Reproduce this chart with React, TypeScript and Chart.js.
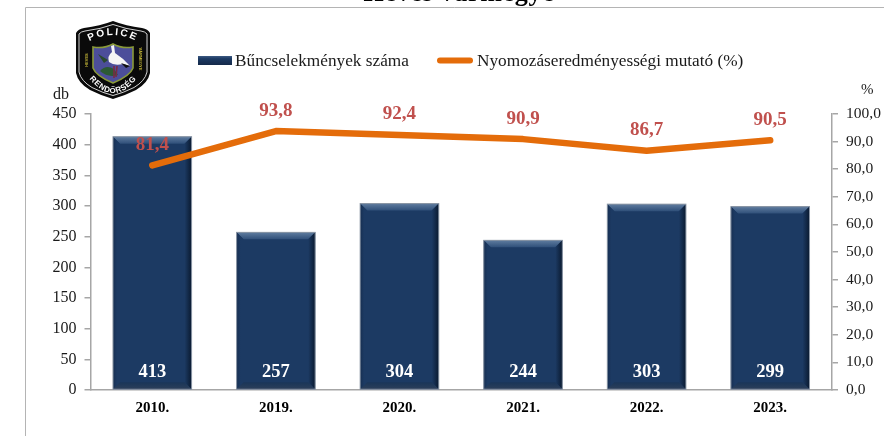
import React, { useEffect, useRef } from "react";
import { Chart, registerables } from "chart.js";

Chart.register(...registerables);

const years = ["2010.", "2019.", "2020.", "2021.", "2022.", "2023."];
const crimeCounts = [413, 257, 304, 244, 303, 299];
const clearanceRates = [81.4, 93.8, 92.4, 90.9, 86.7, 90.5];
const barLabel = "Bűncselekmények száma";
const lineLabel = "Nyomozáseredményességi mutató (%)";
const titleText = "Heves vármegye";

const SERIF = '"Liberation Serif", serif';
const NAVY = "#1c3a63";
const ORANGE = "#e46c0a";
const RED = "#c0504d";
const AXIS = "#a6a6a6";
const INK = "#1a1a1a";

const hu = (v: number) => v.toFixed(1).replace(".", ",");

function bevelBar(ctx: CanvasRenderingContext2D, x0: number, y0: number, x1: number, y1: number) {
  const d = 7;
  const quad = (pts: number[][], fill: string | CanvasGradient) => {
    ctx.beginPath();
    pts.forEach(([a, b], i) => (i ? ctx.lineTo(a, b) : ctx.moveTo(a, b)));
    ctx.closePath();
    ctx.fillStyle = fill;
    ctx.fill();
  };
  const top = ctx.createLinearGradient(0, y0, 0, y0 + d);
  top.addColorStop(0, "#5f7c9f");
  top.addColorStop(1, "#2f4f79");
  quad([[x0, y0], [x1, y0], [x1 - d, y0 + d], [x0 + d, y0 + d]], top);
  const right = ctx.createLinearGradient(x1 - d, 0, x1, 0);
  right.addColorStop(0, NAVY);
  right.addColorStop(1, "#0a1a30");
  quad([[x1, y0], [x1, y1], [x1 - d, y1 - d], [x1 - d, y0 + d]], right);
  const left = ctx.createLinearGradient(x0, 0, x0 + 4, 0);
  left.addColorStop(0, "#172f52");
  left.addColorStop(1, NAVY);
  quad([[x0, y0], [x0 + d, y0 + d], [x0 + d, y1 - d], [x0, y1]], left);
  const bottom = ctx.createLinearGradient(0, y1 - d, 0, y1);
  bottom.addColorStop(0, "#1a3558");
  bottom.addColorStop(1, "#2c3f5a");
  quad([[x0 + d, y1 - d], [x1 - d, y1 - d], [x1, y1], [x0, y1]], bottom);
  ctx.strokeStyle = "#8c97a6";
  ctx.lineWidth = 1;
  ctx.strokeRect(x0, y0, x1 - x0, y1 - y0);
}

const decorations = {
  id: "decorations",
  beforeDraw(chart: any) {
    const { ctx } = chart;
    ctx.save();
    ctx.strokeStyle = "#b4b4b4";
    ctx.lineWidth = 1;
    ctx.beginPath();
    ctx.moveTo(25.5, 436);
    ctx.lineTo(25.5, 7.5);
    ctx.lineTo(884, 7.5);
    ctx.stroke();
    ctx.restore();
  },
  afterDatasetDraw(chart: any, args: any) {
    if (args.index !== 0) return;
    const { ctx } = chart;
    ctx.save();
    args.meta.data.forEach((bar: any) => {
      bevelBar(ctx, bar.x - bar.width / 2, bar.y, bar.x + bar.width / 2, bar.base);
    });
    ctx.restore();
  },
  afterDatasetsDraw(chart: any) {
    const { ctx } = chart;
    ctx.save();
    ctx.textAlign = "center";
    ctx.textBaseline = "middle";
    ctx.font = `bold 18.5px ${SERIF}`;
    ctx.fillStyle = "#ffffff";
    chart.getDatasetMeta(0).data.forEach((bar: any, i: number) => {
      ctx.fillText(String(crimeCounts[i]), bar.x, bar.base - 17);
    });
    ctx.font = `bold 19px ${SERIF}`;
    ctx.fillStyle = RED;
    chart.getDatasetMeta(1).data.forEach((pt: any, i: number) => {
      ctx.fillText(hu(clearanceRates[i]), pt.x, pt.y - 20.5);
    });

    // axis captions
    ctx.font = `16px ${SERIF}`;
    ctx.fillStyle = INK;
    const left = chart.scales.y;
    const right = chart.scales.y1;
    ctx.textAlign = "left";
    ctx.fillText("db", 53, left.top - 19.5);
    ctx.font = `15px ${SERIF}`;
    ctx.fillText("%", 861, right.top - 24);

    // legend
    ctx.font = `17.25px ${SERIF}`;
    ctx.textAlign = "left";
    const g = ctx.createLinearGradient(0, 56, 0, 65);
    g.addColorStop(0, "#3d5a82");
    g.addColorStop(0.3, NAVY);
    g.addColorStop(1, "#14294a");
    ctx.fillStyle = g;
    ctx.fillRect(198, 56, 34, 9);
    ctx.fillStyle = INK;
    ctx.fillText(barLabel, 235, 61);
    ctx.strokeStyle = ORANGE;
    ctx.lineWidth = 6;
    ctx.lineCap = "round";
    ctx.beginPath();
    ctx.moveTo(440, 60.5);
    ctx.lineTo(470, 60.5);
    ctx.stroke();
    ctx.fillText(lineLabel, 477, 61);
    ctx.restore();
  },
};

function Logo() {
  return (
    <svg
      width={74}
      height={78}
      viewBox="0 0 74 78"
      style={{ position: "absolute", left: 76, top: 21 }}
    >
      <defs>
        <path id="logoTop" d="M7 24 Q37 4 67 24" />
        <path id="logoBottom" d="M7 49 Q37 95 67 49" />
      </defs>
      <path d="M0 12 Q2 8 8 7 Q24 5 37 0 Q50 5 66 7 Q72 8 74 12 L74 52 Q72 62 60 69 Q48 75 37 78 Q26 75 14 69 Q2 62 0 52 Z" fill="#0a0a0a" />
      <path
        d="M3 13 Q5 10.5 9 10 Q25 8 37 3.5 Q49 8 65 10 Q69 10.5 71 13 L71 51 Q69 60 58 66.5 Q47 72 37 74.5 Q27 72 16 66.5 Q5 60 3 51 Z"
        fill="none"
        stroke="#e8e8e8"
        strokeWidth={0.9}
      />
      <text fontFamily="Liberation Sans" fontWeight="bold" fontSize={10} fill="#fff" letterSpacing={2}>
        <textPath href="#logoTop" startOffset="50%" textAnchor="middle">POLICE</textPath>
      </text>
      <path d="M17 26 Q28 28 37 23 Q46 28 57 26 L57 47 Q54 55 37 62 Q20 55 17 47 Z" fill="#4c4e9a" stroke="#8a9a3a" strokeWidth={1.6} />
      <path d="M24 50 Q30 43 38 48 L42 54 Q32 57 24 50 Z" fill="#2c5a35" />
      <path d="M22 33 L32 39 L28 42 Z" fill="#2a4a30" />
      <path d="M35 25 L38 24 L39 32 Q47 37 54 45 L47 43 Q38 45 33 41 Q31 35 36 31 Z" fill="#f5f5f5" />
      <path d="M45 42 L54 45 L50 47 Z" fill="#111" />
      <path d="M38 45 L38 57 M41 45 L40 56" stroke="#7a2a45" strokeWidth={1.6} fill="none" />
      <text x={11.5} y={39} fontFamily="Liberation Sans" fontWeight="bold" fontSize={4} fill="#c6b838" textAnchor="middle" transform="rotate(-90 11.5 39)">HEVES</text>
      <text x={62.5} y={38} fontFamily="Liberation Sans" fontWeight="bold" fontSize={4} fill="#c6b838" textAnchor="middle" transform="rotate(90 62.5 38)">VÁRMEGYE</text>
      <text fontFamily="Liberation Sans" fontWeight="bold" fontSize={8} fill="#fff" letterSpacing={0.6}>
        <textPath href="#logoBottom" startOffset="50%" textAnchor="middle">RENDŐRSÉG</textPath>
      </text>
    </svg>
  );
}

export default function App() {
  const ref = useRef<HTMLCanvasElement>(null);
  useEffect(() => {
    if (!ref.current) return;
    const chart = new Chart(ref.current, {
      type: "bar",
      plugins: [decorations],
      data: {
        labels: years,
        datasets: [
          {
            type: "bar",
            label: barLabel,
            data: crimeCounts,
            yAxisID: "y",
            order: 2,
            backgroundColor: NAVY,
            barPercentage: 0.636,
            categoryPercentage: 1,
          },
          {
            type: "line",
            label: lineLabel,
            data: clearanceRates,
            yAxisID: "y1",
            order: 1,
            borderColor: ORANGE,
            borderWidth: 6.5,
            borderCapStyle: "round",
            borderJoinStyle: "round",
            pointRadius: 0,
            tension: 0,
          },
        ],
      } as any,
      options: {
        responsive: false,
        animation: false,
        devicePixelRatio: 1,
        layout: { padding: { top: 114, left: 0, right: 0, bottom: 0 } },
        plugins: { legend: { display: false }, tooltip: { enabled: false }, title: { display: false } },
        scales: {
          x: {
            afterFit: (s: any) => { s.height = 46; },
            grid: { display: false, drawTicks: false },
            border: { color: AXIS, width: 1.5 },
            ticks: { color: "#000", font: { family: SERIF, size: 15, weight: "bold" }, padding: 9, maxRotation: 0 },
          },
          y: {
            position: "left",
            min: 0,
            max: 450,
            afterFit: (s: any) => { s.width = 90.5; },
            grid: { drawOnChartArea: false, drawTicks: true, tickLength: 6, color: AXIS, lineWidth: 1.5 },
            border: { color: AXIS, width: 1.5 },
            ticks: { stepSize: 50, color: INK, font: { family: SERIF, size: 16 }, padding: 8 },
          },
          y1: {
            position: "right",
            min: 0,
            max: 100,
            afterFit: (s: any) => { s.width = 52; },
            grid: { drawOnChartArea: false, drawTicks: true, tickLength: 6, color: AXIS, lineWidth: 1.5 },
            border: { color: AXIS, width: 1.5 },
            ticks: { stepSize: 10, color: INK, font: { family: SERIF, size: 15.5 }, padding: 8, callback: (v: any) => hu(Number(v)) },
          },
        },
      } as any,
    });
    return () => chart.destroy();
  }, []);
  return (
    <div style={{ position: "absolute", left: 0, top: 0, width: 884, height: 436, overflow: "hidden", background: "#fff" }}>
      <canvas ref={ref} width={884} height={436} style={{ display: "block" }} />
      <Logo />
      <div
        style={{
          position: "absolute",
          left: 0,
          width: 918,
          top: -20,
          textAlign: "center",
          font: `bold 26px ${SERIF}`,
          lineHeight: "26px",
          color: "#000",
          letterSpacing: 0.7,
        }}
      >
        {titleText}
      </div>
    </div>
  );
}
